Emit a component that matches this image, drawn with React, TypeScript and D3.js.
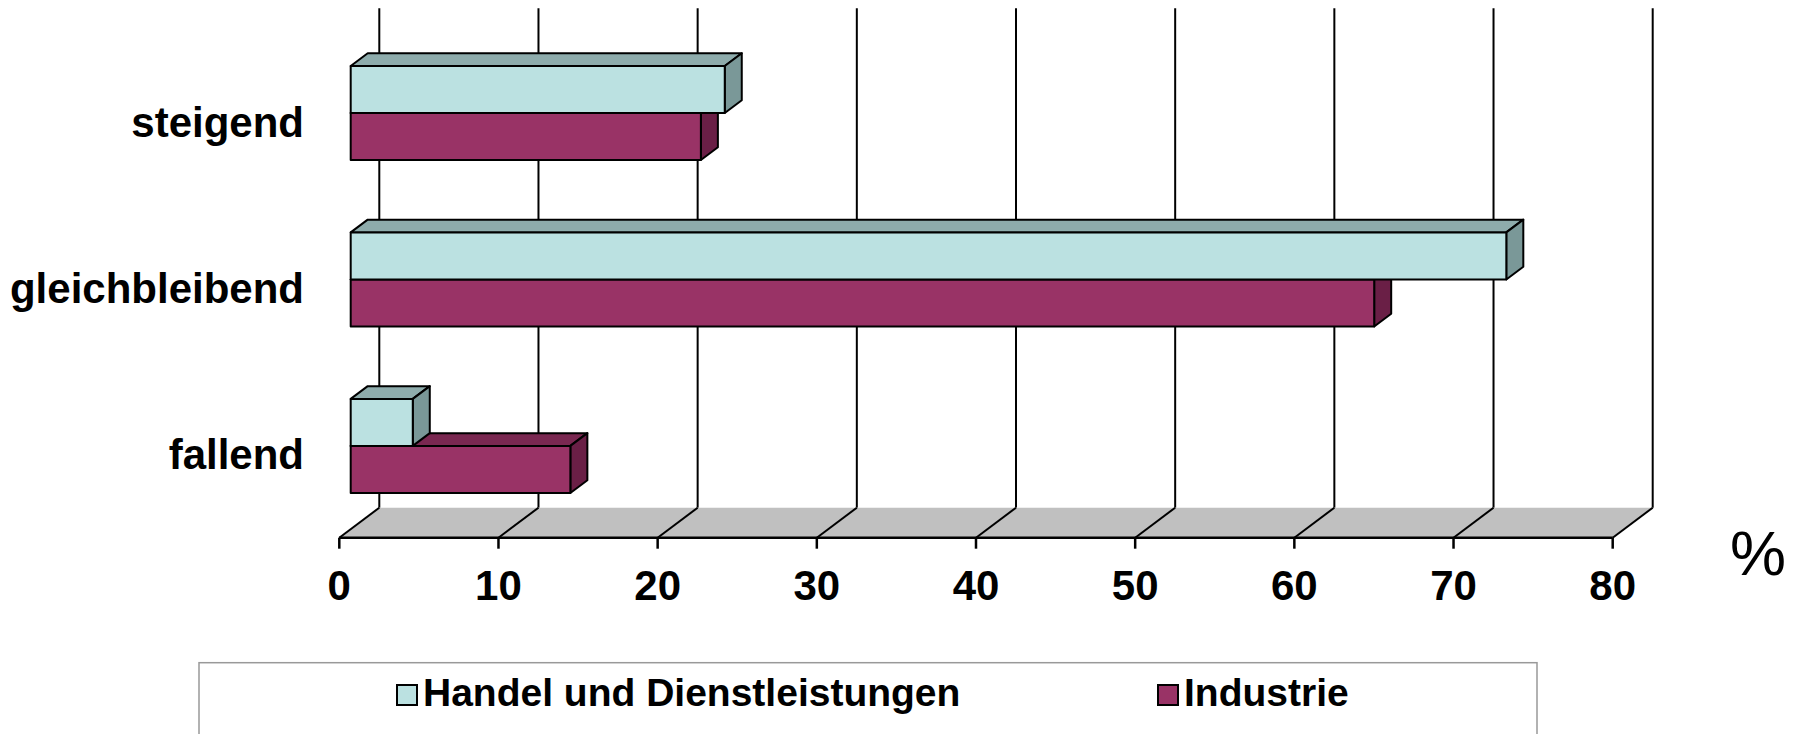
import React from "react";
import * as d3 from "d3";

const categories = ["steigend", "gleichbleibend", "fallend"];
const seriesNames = ["Handel und Dienstleistungen", "Industrie"];
const handelValues = [23.5, 72.6, 3.9];
const industrieValues = [22.0, 64.3, 13.8];
const xTicks = [0, 10, 20, 30, 40, 50, 60, 70, 80];
const unitLabel = "%";

const W = 1800;
const H = 734;
const FONT = "'Liberation Sans', Arial, Helvetica, sans-serif";

const DX = 40; // full depth offset
const DY = -30;
const D0 = 0.285; // bar front depth fraction
const D1 = 0.71; // bar back depth fraction

const colors = [
  { front: "#bbe1e1", top: "#8eacac", side: "#7a9898" },
  { front: "#993366", top: "#7a2851", side: "#6a1f46" },
];

export default function App() {
  const x = d3.scaleLinear().domain([0, 80]).range([339.3, 1612.7]);
  const y = d3
    .scaleBand<string>()
    .domain(categories)
    .range([38.3, 537.7])
    .paddingInner(0.435)
    .paddingOuter(0.2175);
  const ySub = d3
    .scaleBand<number>()
    .domain([0, 1])
    .range([0, y.bandwidth()]);

  const floorY = 537.7;
  const topY = 38.3;
  const proj = (px: number, py: number, d: number): [number, number] => [
    px + d * DX,
    py + d * DY,
  ];
  const poly = (pts: [number, number][]) =>
    pts.map((p) => p.join(",")).join(" ");

  const allValues = [handelValues, industrieValues];

  const bars: React.ReactNode[] = [];
  categories.forEach((cat, ci) => {
    [1, 0].forEach((si) => {
      const v = allValues[si][ci];
      const y0 = (y(cat) as number) + (ySub(si) as number);
      const y1 = y0 + ySub.bandwidth();
      const xa = x(0);
      const xb = x(v);
      const c = colors[si];
      const fTL = proj(xa, y0, D0);
      const fTR = proj(xb, y0, D0);
      const fBR = proj(xb, y1, D0);
      const fBL = proj(xa, y1, D0);
      const bTL = proj(xa, y0, D1);
      const bTR = proj(xb, y0, D1);
      const bBR = proj(xb, y1, D1);
      bars.push(
        <g key={cat + si} stroke="#000" strokeWidth={2} strokeLinejoin="round">
          <polygon points={poly([fTL, bTL, bTR, fTR])} fill={c.top} />
          <polygon points={poly([fTR, bTR, bBR, fBR])} fill={c.side} />
          <polygon points={poly([fTL, fTR, fBR, fBL])} fill={c.front} />
        </g>
      );
    });
  });

  return (
    <svg
      width={W}
      height={H}
      style={{ position: "absolute", left: 0, top: 0, background: "#fff" }}
      fontFamily={FONT}
    >
      <rect x={0} y={0} width={W} height={H} fill="#fff" />
      {xTicks.map((t) => {
        const [gx, gy0] = proj(x(t), topY, 1);
        const [, gy1] = proj(x(t), floorY, 1);
        return (
          <line key={"g" + t} x1={gx} x2={gx} y1={gy0} y2={gy1} stroke="#000" strokeWidth={2} />
        );
      })}
      <polygon
        points={poly([
          [x(0), floorY],
          [x(80), floorY],
          proj(x(80), floorY, 1),
          proj(x(0), floorY, 1),
        ])}
        fill="#c0c0c0"
      />
      {xTicks.map((t) => {
        const [bx, by] = proj(x(t), floorY, 1);
        return (
          <line key={"f" + t} x1={x(t)} y1={floorY} x2={bx} y2={by} stroke="#000" strokeWidth={2} />
        );
      })}
      <line x1={x(0)} x2={x(80)} y1={floorY} y2={floorY} stroke="#000" strokeWidth={2.5} />
      {xTicks.map((t) => (
        <line key={"t" + t} x1={x(t)} x2={x(t)} y1={floorY} y2={floorY + 11} stroke="#000" strokeWidth={2.5} />
      ))}
      {xTicks.map((t) => (
        <text
          key={"l" + t}
          x={x(t)}
          y={600}
          textAnchor="middle"
          fontSize={42}
          fontWeight="bold"
          fill="#000"
        >
          {t}
        </text>
      ))}
      <text x={1758} y={575} textAnchor="middle" fontSize={63} fill="#000">
        {unitLabel}
      </text>
      {bars}
      {categories.map((cat) => (
        <text
          key={"c" + cat}
          x={304}
          y={(y(cat) as number) + y.bandwidth() / 2 + 15}
          textAnchor="end"
          fontSize={42}
          fontWeight="bold"
          fill="#000"
        >
          {cat}
        </text>
      ))}
      <rect x={199} y={662.7} width={1338} height={100} fill="#fff" stroke="#999" strokeWidth={1.5} />
      {seriesNames.map((name, i) => {
        const lx = i === 0 ? 397 : 1158;
        return (
          <g key={"lg" + i}>
            <rect x={lx} y={685} width={20} height={20} fill={colors[i].front} stroke="#000" strokeWidth={2} />
            <text x={lx + 26} y={706} fontSize={39} fontWeight="bold" fill="#000">
              {name}
            </text>
          </g>
        );
      })}
    </svg>
  );
}
